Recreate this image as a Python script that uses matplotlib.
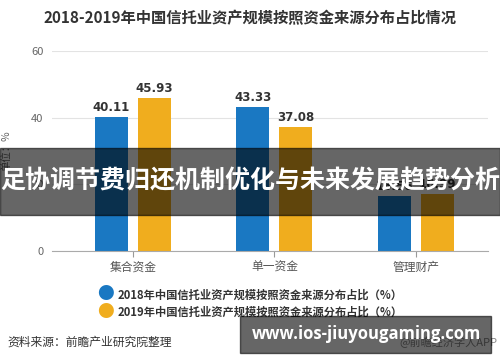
import matplotlib
matplotlib.use("Agg")
import matplotlib.pyplot as plt
import numpy as np

plt.rcParams['font.family'] = ['Noto Sans CJK SC', 'DejaVu Sans']

title = "2018-2019年中国信托业资产规模按照资金来源分布占比情况"
categories = ["集合资金", "单一资金", "管理财产"]
series_names = ["2018年中国信托业资产规模按照资金来源分布占比（%）",
                "2019年中国信托业资产规模按照资金来源分布占比（%）"]
values_2018 = [40.11, 43.33, 16.56]
values_2019 = [45.93, 37.08, 16.99]
y_ticks = [0, 20, 40, 60]
colors = ["#1a78c2", "#f0ad1e"]

fig = plt.figure(figsize=(5, 3.62), dpi=100)
ax = fig.add_axes([0.104, 0.3066, 0.872, 0.5525])

x = np.arange(len(categories))
w = 0.233
off = 0.152
for vals, dx, c in [(values_2018, -off, colors[0]), (values_2019, off, colors[1])]:
    bars = ax.bar(x + dx, vals, width=w, color=c, zorder=2)
    for b, v in zip(bars, vals):
        ax.text(b.get_x() + b.get_width() / 2, v + 0.9, f"{v:.2f}", ha="center",
                va="bottom", fontsize=8.5, fontweight="bold", color="#333333",
                family="DejaVu Sans", zorder=3)

ax.set_xlim(-0.572, 2.509)
ax.set_ylim(0, 60)
ax.set_yticks(y_ticks)
ax.set_yticklabels([str(t) for t in y_ticks], fontsize=8, color="#666666")
ax.set_xticks(x)
ax.set_xticklabels(categories, fontsize=8.5, color="#555555")
ax.tick_params(axis="y", length=0, pad=6)
ax.tick_params(axis="x", length=4, color="#999999", pad=3)
ax.grid(axis="y", color="#e3e3e3", linewidth=0.8, zorder=0)
for s in ["left", "right", "top"]:
    ax.spines[s].set_visible(False)
ax.spines["bottom"].set_color("#aaaaaa")
ax.set_ylabel("单位：%", fontsize=7.5, color="#666666", labelpad=14)

fig.text(0.5, 0.95, title, ha="center", va="center", fontsize=11,
         fontweight="bold", color="#333333")

# legend
for i, name in enumerate(series_names):
    yy = 1 - (295 + 17 * i) / 362
    fig.text(0.21, yy, "●", ha="center", va="center", fontsize=12, color=colors[i])
    fig.text(0.236, yy, name, ha="left", va="center", fontsize=8.1,
             fontweight="bold", color="#333333")

fig.text(0.014, 1 - 342 / 362, "资料来源：前瞻产业研究院整理", ha="left", va="center",
         fontsize=8.5, color="#333333")
fig.text(0.994, 1 - 342 / 362, "@前瞻经济学人APP", ha="right", va="center",
         fontsize=8, color="#888888")

# overlay banners
fig.patches.append(plt.Rectangle((0, 1 - 215 / 362), 1, 67 / 362, transform=fig.transFigure,
                                 color="black", alpha=0.6, zorder=5))
fig.text(0.5, 1 - 181 / 362, "足协调节费归还机制优化与未来发展趋势分析", ha="center",
         va="center", fontsize=18, fontweight="bold", color="white", zorder=6)
fig.patches.append(plt.Rectangle((240 / 500, 1 - 353 / 362), 251 / 500, 37 / 362,
                                 transform=fig.transFigure, color="black", alpha=0.6, zorder=5))
fig.text(366 / 500, 1 - 334 / 362, "www.ios-jiuyougaming.com", ha="center", va="center",
         fontsize=12, fontweight="bold", color="white", family="Open Sans", zorder=6)

fig.savefig("out.png", dpi=100)
